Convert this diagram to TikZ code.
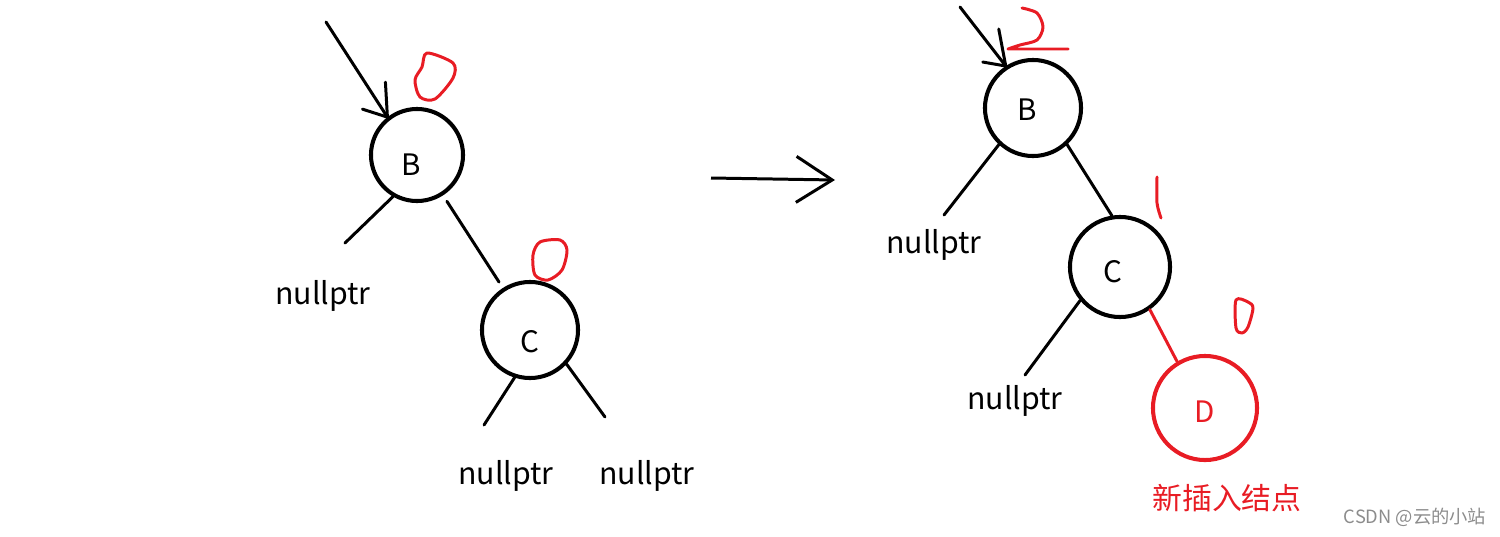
\documentclass[tikz,border=0pt]{standalone}
\usepackage{fontspec}
\setmainfont{Noto Sans CJK SC}
\usetikzlibrary{arrows.meta, positioning}
\definecolor{hlred}{RGB}{232,28,36}

\begin{document}
\begin{tikzpicture}[
  x=0.01cm, y=-0.01cm,
  treenode/.style={circle, draw=black, line width=1.15pt, inner sep=0pt},
  newnode/.style={treenode, draw=hlred},
  letter/.style={inner sep=0pt, font=\fontsize{8.4}{9}\selectfont},
  nullnode/.style={inner sep=0pt, font=\fontsize{8.6}{10}\selectfont},
  edge/.style={line width=0.85pt, line cap=round, line join=round},
  rededge/.style={edge, draw=hlred},
  scrawl/.style={draw=hlred, line width=0.85pt, line cap=round, line join=round},
  bigarrow/.style={line width=0.85pt, -{Straight Barb[length=3.6mm, width=4.6mm]}}
]
\useasboundingbox (0,0) rectangle (1500,536);

% left tree
\node (bL) [treenode, minimum size=0.92cm, label={[letter, shift={(-6,10)}]center:B}] at (417,155) {};
\node (cL) [treenode, minimum size=0.96cm, label={[letter, shift={(0,12)}]center:C}] at (530,330) {};
\node (nL1) [nullnode] at (323,296) {nullptr};
\node (nL2) [nullnode] at (506,476) {nullptr};
\node (nL3) [nullnode] at (647,476) {nullptr};
\coordinate (inL) at (326,22);
\coordinate (bLend) at (345,243);
\coordinate (cLend1) at (484,425);
\coordinate (cLend2) at (605,417);

\draw [edge] (inL) -- (bL.128);
\draw [edge] (bL.128) -- ++(-2,-35);
\draw [edge] (bL.128) -- ++(-25,-8);
\draw [edge, shorten <=2pt, shorten >=2pt] (bL) -- (cL);
\draw [edge] (bL.240) -- (bLend);
\draw [edge] (cL.-108) -- (cLend1);
\draw [edge] (cL.-43) -- (cLend2);

\draw [scrawl] plot[smooth cycle] coordinates {(427,53) (453,63) (453,78) (435,99) (420,97) (415,80) (422,67)};
\draw [scrawl] plot[smooth cycle] coordinates {(540,242) (560,240) (567,250) (562,270) (548,280) (535,275) (533,255)};

% middle arrow
\coordinate (arrS) at (711,178);
\coordinate (arrE) at (835,180);
\draw [bigarrow] (arrS) -- (arrE);

% right tree
\node (bR) [treenode, minimum size=0.96cm, label={[letter, shift={(-6,2)}]center:B}] at (1033,108) {};
\node (cR) [treenode, minimum size=1.0cm, label={[letter, shift={(-7,5)}]center:C}] at (1120,267) {};
\node (dR) [newnode, minimum size=1.04cm, label={[letter, text=hlred, shift={(0,4)}]center:D}] at (1205,408) {};
\node (nR1) [nullnode] at (934,245) {nullptr};
\node (nR2) [nullnode] at (1015,401) {nullptr};
\node (newlabel) [inner sep=0pt, text=hlred, font=\fontsize{8.5}{10}\selectfont] at (1227,498) {新插入结点};
\node (wmark) [inner sep=0pt, text=black!45, font=\fontsize{5.2}{6}\selectfont] at (1415,517) {CSDN @云的小站};
\coordinate (inR) at (960,7);
\coordinate (bRend) at (944,215);
\coordinate (cRend) at (1025,375);

\draw [edge] (inR) -- (bR.123);
\draw [edge] (bR.123) -- ++(-7,-37);
\draw [edge] (bR.123) -- ++(-23,-4);
\draw [edge] (bR.-47) -- (cR.99);
\draw [edge] (bR.-133) -- (bRend);
\draw [edge] (cR.-140) -- (cRend);
\draw [rededge] (cR.-55) -- (dR.121);

\draw [scrawl] plot[smooth] coordinates {(1022,8) (1037,13) (1043,27) (1037,40) (1020,45) (1008,49)} -- (1068,49);
\draw [scrawl] plot[smooth] coordinates {(1157,177) (1157,203) (1161,218)};
\draw [scrawl] plot[smooth cycle] coordinates {(1236,300) (1248,302) (1253,308) (1248,327) (1242,333) (1236,328)};
\end{tikzpicture}
\end{document}
